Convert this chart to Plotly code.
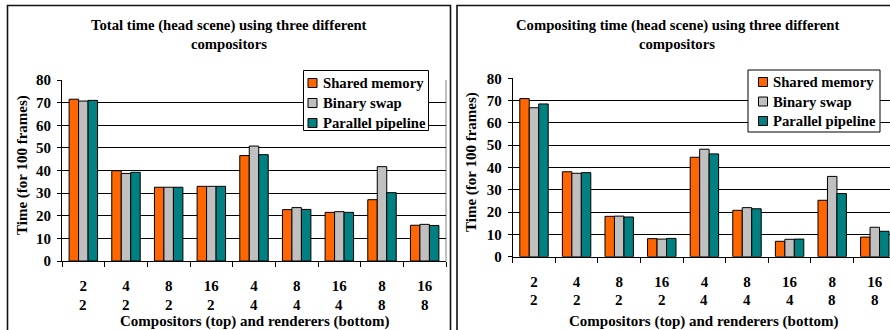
import plotly.graph_objects as go

# ---------------- data ----------------
compositors = [2, 4, 8, 16, 4, 8, 16, 8, 16]
renderers = [2, 2, 2, 2, 4, 4, 4, 8, 8]
categories = [f"{c}/{r}" for c, r in zip(compositors, renderers)]
series_names = ["Shared memory", "Binary swap", "Parallel pipeline"]

total_shared = [71.5, 39.9, 32.6, 33.0, 46.6, 22.7, 21.5, 27.1, 15.8]
total_binary = [70.7, 38.7, 32.6, 33.0, 50.8, 23.6, 21.8, 41.7, 16.2]
total_pipeline = [71.0, 39.2, 32.6, 33.0, 47.0, 22.8, 21.5, 30.2, 15.7]

comp_shared = [70.9, 38.1, 18.1, 8.1, 44.6, 20.8, 6.9, 25.3, 8.8]
comp_binary = [66.8, 37.4, 18.2, 7.9, 48.2, 22.0, 7.8, 36.0, 13.2]
comp_pipeline = [68.5, 37.7, 17.8, 8.2, 46.1, 21.5, 7.9, 28.3, 11.4]

y_ticks = [0, 10, 20, 30, 40, 50, 60, 70, 80]

title_left = ["Total time (head scene) using three different", "compositors"]
title_right = ["Compositing time (head scene) using three different", "compositors"]
x_title = "Compositors (top) and renderers (bottom)"
y_title = "Time (for 100 frames)"

colors = ["#FF6600", "#C0C0C0", "#008080"]

# ---------------- layout helpers ----------------
W, H = 890, 330
FONT = "Liberation Serif"


def px(x):
    return x / W


def py(y):
    return 1 - y / H


fig = go.Figure()

left_vals = [total_shared, total_binary, total_pipeline]
right_vals = [comp_shared, comp_binary, comp_pipeline]

for i, name in enumerate(series_names):
    fig.add_trace(go.Bar(x=categories, y=left_vals[i], name=name, xaxis="x", yaxis="y",
                         marker=dict(color=colors[i], line=dict(color="black", width=1)),
                         showlegend=False))
for i, name in enumerate(series_names):
    fig.add_trace(go.Bar(x=categories, y=right_vals[i], name=name, xaxis="x2", yaxis="y2",
                         marker=dict(color=colors[i], line=dict(color="black", width=1)),
                         showlegend=False))

TICK_SIZE = 15
tickfont = dict(family=FONT, size=TICK_SIZE, color="black", weight="bold")

# left plot area
L_x0, L_x1, L_ytop, L_ybot = 62, 446, 80, 261
# right plot area
R_x0, R_ytop, R_ybot = 512.7, 78.3, 256.7
cat_px = 42.6
r_range_max = -0.5 + (W - R_x0) / cat_px

xcommon = dict(type="category", tickson="boundaries", ticks="outside", ticklen=5,
               tickcolor="black", showline=True, linecolor="black", linewidth=1,
               showgrid=False, tickfont=tickfont, ticklabelstandoff=11, fixedrange=True,
               automargin=False, tickmode="array", tickvals=categories,
               ticktext=[str(c) for c in compositors])
ycommon = dict(range=[0, 80], tickvals=y_ticks, ticks="outside", ticklen=4, tickcolor="black",
               showline=True, linecolor="black", linewidth=1, showgrid=True,
               gridcolor="black", gridwidth=1, zeroline=False, tickfont=tickfont,
               ticklabelstandoff=3, fixedrange=True, automargin=False)

fig.update_layout(
    width=W, height=H, autosize=False,
    margin=dict(l=0, r=0, t=0, b=0, pad=0),
    paper_bgcolor="white", plot_bgcolor="white",
    barmode="group", bargap=0.333, bargroupgap=0,
    xaxis=dict(domain=[px(L_x0), px(L_x1)], anchor="y", range=[-0.5, 8.5], **xcommon),
    yaxis=dict(domain=[py(L_ybot), py(L_ytop)], anchor="x", **ycommon),
    xaxis2=dict(domain=[px(R_x0), 1.0], anchor="y2", range=[-0.5, r_range_max], **xcommon),
    yaxis2=dict(domain=[py(R_ybot), py(R_ytop)], anchor="x2", **ycommon),
)

shapes = []
# outer chart borders
shapes.append(dict(type="rect", xref="paper", yref="paper", x0=px(7.5), x1=px(450.5),
                   y0=py(340), y1=py(5.5), line=dict(color="#111111", width=1.6), layer="above"))
shapes.append(dict(type="rect", xref="paper", yref="paper", x0=px(457), x1=px(900),
                   y0=py(340), y1=py(5.5), line=dict(color="#111111", width=1.6), layer="above"))
# right border of left plot area
shapes.append(dict(type="line", xref="paper", yref="paper", x0=px(L_x1), x1=px(L_x1),
                   y0=py(L_ybot), y1=py(L_ytop), line=dict(color="#808080", width=1), layer="below"))

annotations = []
tfont = dict(family=FONT, size=14.7, color="black", weight="bold")
afont = dict(family=FONT, size=15, color="black", weight="bold")

for lines, cx in ((title_left, 229), (title_right, 677)):
    for k, (txt, cy) in enumerate(zip(lines, (26, 43.5))):
        annotations.append(dict(text=txt, x=px(cx), y=py(cy), xref="paper", yref="paper",
                                showarrow=False, xanchor="center", yanchor="middle", font=tfont))

annotations.append(dict(text=x_title, x=px(254), y=py(321.5), xref="paper", yref="paper",
                        showarrow=False, xanchor="center", yanchor="middle", font=afont))
annotations.append(dict(text=x_title, x=px(703), y=py(321.5), xref="paper", yref="paper",
                        showarrow=False, xanchor="center", yanchor="middle", font=afont))
annotations.append(dict(text=y_title, x=px(22), y=py(165), xref="paper", yref="paper",
                        showarrow=False, xanchor="center", yanchor="middle", textangle=-90, font=afont))
annotations.append(dict(text=y_title, x=px(471), y=py(162), xref="paper", yref="paper",
                        showarrow=False, xanchor="center", yanchor="middle", textangle=-90, font=afont))

# second row of category labels (renderers)
for xref, row_y in (("x", L_ybot + 43.5), ("x2", R_ybot + 43.5)):
    for cat, r in zip(categories, renderers):
        annotations.append(dict(text=str(r), x=cat, y=py(row_y), xref=xref, yref="paper",
                                showarrow=False, xanchor="center", yanchor="middle",
                                font=tickfont))

# legends (box, swatches, labels)
legends = [
    dict(box=(303.5, 428.5, 70.5, 130.5), sw_x=308, txt_x=321, rows=[83, 103, 123]),
    dict(box=(748, 880, 70, 132), sw_x=758.5, txt_x=771, rows=[82, 101.5, 121]),
]
for lg in legends:
    bx0, bx1, by0, by1 = lg["box"]
    shapes.append(dict(type="rect", xref="paper", yref="paper", x0=px(bx0), x1=px(bx1),
                       y0=py(by1), y1=py(by0), fillcolor="white",
                       line=dict(color="black", width=1), layer="above"))
    for i, name in enumerate(series_names):
        cy = lg["rows"][i]
        shapes.append(dict(type="rect", xref="paper", yref="paper",
                           x0=px(lg["sw_x"]), x1=px(lg["sw_x"] + 9),
                           y0=py(cy + 4.5), y1=py(cy - 4.5), fillcolor=colors[i],
                           line=dict(color="black", width=1), layer="above"))
        annotations.append(dict(text=name, x=px(lg["txt_x"]), y=py(cy), xref="paper", yref="paper",
                                showarrow=False, xanchor="left", yanchor="middle",
                                font=dict(family=FONT, size=14.7, color="black", weight="bold")))

fig.update_layout(shapes=shapes, annotations=annotations)

fig.write_html("out.html", config={"displayModeBar": False},
               post_script="document.body.style.margin='0';document.body.style.overflow='hidden';")
